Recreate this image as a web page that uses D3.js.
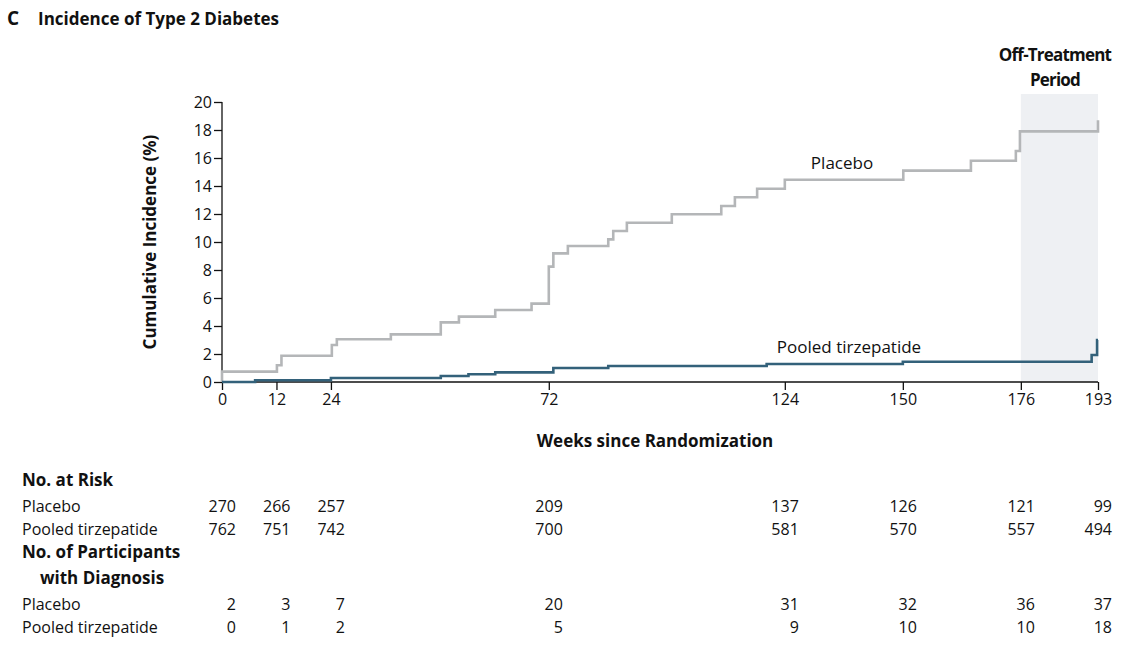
<!DOCTYPE html>
<html><head><meta charset="utf-8">
<script src="https://cdn.jsdelivr.net/npm/d3@7"></script>
<style>
body{margin:0;background:#fff;}
text{font-family:"Open Sans",sans-serif;fill:#111;}
</style></head>
<body><svg id="chart" width="1140" height="648"></svg>
<script>
'use strict'

// step curves: [week, cumulative incidence %]
var placebo = [[0,0],[0,0.74],[12.1,1.2],[13.1,1.88],[24.2,2.64],[25.3,3.05],[37.2,3.4],[48.2,4.26],[52.2,4.67],
	[60.2,5.14],[68.2,5.6],[72,8.24],[73,9.19],[76.2,9.71],[85.1,10.19],[86.2,10.79],[89.2,11.38],[99.1,11.98],
	[110,12.57],[113,13.2],[117.9,13.8],[124,14.45],[150.1,15.1],[165,15.8],[174.9,16.5],[175.8,17.9],[193,17.9],[193,18.7]];
var tirzepatide = [[0,0],[7.3,0.12],[24,0.29],[48.2,0.43],[54.3,0.55],[60.2,0.69],[73,1.0],[85.1,1.14],
	[120,1.29],[150,1.45],[191.6,1.45],[191.6,1.93],[192.8,1.93],[192.8,3.0],[193,3.0]];

var xTicks = [0, 12, 24, 72, 124, 150, 176, 193];
var yTicks = [0, 2, 4, 6, 8, 10, 12, 14, 16, 18, 20];
var offStart = 176, offEnd = 193;

var tableRows = [
	{label: 'Placebo', y: 506, values: [270, 266, 257, 209, 137, 126, 121, 99]},
	{label: 'Pooled tirzepatide', y: 529, values: [762, 751, 742, 700, 581, 570, 557, 494]},
	{label: 'Placebo', y: 604, values: [2, 3, 7, 20, 31, 32, 36, 37]},
	{label: 'Pooled tirzepatide', y: 627, values: [0, 1, 2, 5, 9, 10, 10, 18]}
];

var svg = d3.select('#chart');
var x = d3.scaleLinear().domain([0, 193]).range([222, 1098]);
var y = d3.scaleLinear().domain([0, 20]).range([382, 102]);

// title
svg.append('text').attr('x', 7).attr('y', 25).attr('font-size', 19).attr('font-weight', 700).text('C');
svg.append('text').attr('x', 38).attr('y', 25).attr('font-size', 17).attr('font-weight', 700).text('Incidence of Type 2 Diabetes');

// off-treatment shading
svg.append('rect')
	.attr('x', x(offStart)).attr('y', 94)
	.attr('width', x(offEnd) - x(offStart)).attr('height', y(0) - 94)
	.attr('fill', '#eef0f3');
svg.append('text').attr('x', 1055).attr('y', 61).attr('text-anchor', 'middle')
	.attr('font-size', 17).attr('font-weight', 700).attr('letter-spacing', -0.8).text('Off-Treatment');
svg.append('text').attr('x', 1055).attr('y', 86).attr('text-anchor', 'middle')
	.attr('font-size', 17).attr('font-weight', 700).attr('letter-spacing', -0.8).text('Period');

// axes
var yAxis = svg.append('g').attr('transform', 'translate(222,0)')
	.call(d3.axisLeft(y).tickValues(yTicks).tickSize(8).tickPadding(2));
var xAxis = svg.append('g').attr('transform', 'translate(0,382)')
	.call(d3.axisBottom(x).tickValues(xTicks).tickSize(8).tickPadding(4));
[xAxis, yAxis].forEach(function(a){
	a.selectAll('path,line').attr('stroke', '#111').attr('stroke-width', 1.3);
	a.selectAll('text').attr('font-size', 16).attr('font-family', '"Open Sans",sans-serif').attr('fill', '#111');
});
yAxis.select('.domain').attr('d', 'M0,382V102');
xAxis.select('.domain').attr('d', 'M222,0H1098');
xAxis.selectAll('.tick line').attr('y2', 8);

svg.append('text').attr('transform', 'translate(156,242) rotate(-90)').attr('text-anchor', 'middle')
	.attr('font-size', 17).attr('font-weight', 700).text('Cumulative Incidence (%)');
svg.append('text').attr('x', 655).attr('y', 447).attr('text-anchor', 'middle')
	.attr('font-size', 17).attr('font-weight', 700).text('Weeks since Randomization');

// curves
var line = d3.line()
	.x(function(d){ return x(d[0]); })
	.y(function(d){ return y(d[1]); })
	.curve(d3.curveStepAfter);
svg.append('path').attr('d', line(placebo)).attr('fill', 'none')
	.attr('stroke', '#b4b6b8').attr('stroke-width', 2.6);
svg.append('path').attr('d', line(tirzepatide)).attr('fill', 'none')
	.attr('stroke', '#33617a').attr('stroke-width', 2.6);

svg.append('text').attr('x', 842).attr('y', 169).attr('text-anchor', 'middle').attr('font-size', 17).text('Placebo');
svg.append('text').attr('x', 849).attr('y', 353).attr('text-anchor', 'middle').attr('font-size', 17).text('Pooled tirzepatide');

// risk table
svg.append('text').attr('x', 22).attr('y', 486).attr('font-size', 17).attr('font-weight', 700).text('No. at Risk');
svg.append('text').attr('x', 22).attr('y', 558).attr('font-size', 17).attr('font-weight', 700).text('No. of Participants');
svg.append('text').attr('x', 40).attr('y', 584).attr('font-size', 17).attr('font-weight', 700).text('with Diagnosis');

tableRows.forEach(function(r){
	svg.append('text').attr('x', 22).attr('y', r.y + 6).attr('font-size', 16).text(r.label);
	svg.selectAll(null).data(r.values).enter().append('text')
		.attr('x', function(d, i){ return x(xTicks[i]) + 14; })
		.attr('y', r.y + 6)
		.attr('text-anchor', 'end').attr('font-size', 16)
		.text(function(d){ return d; });
});
</script></body></html>
